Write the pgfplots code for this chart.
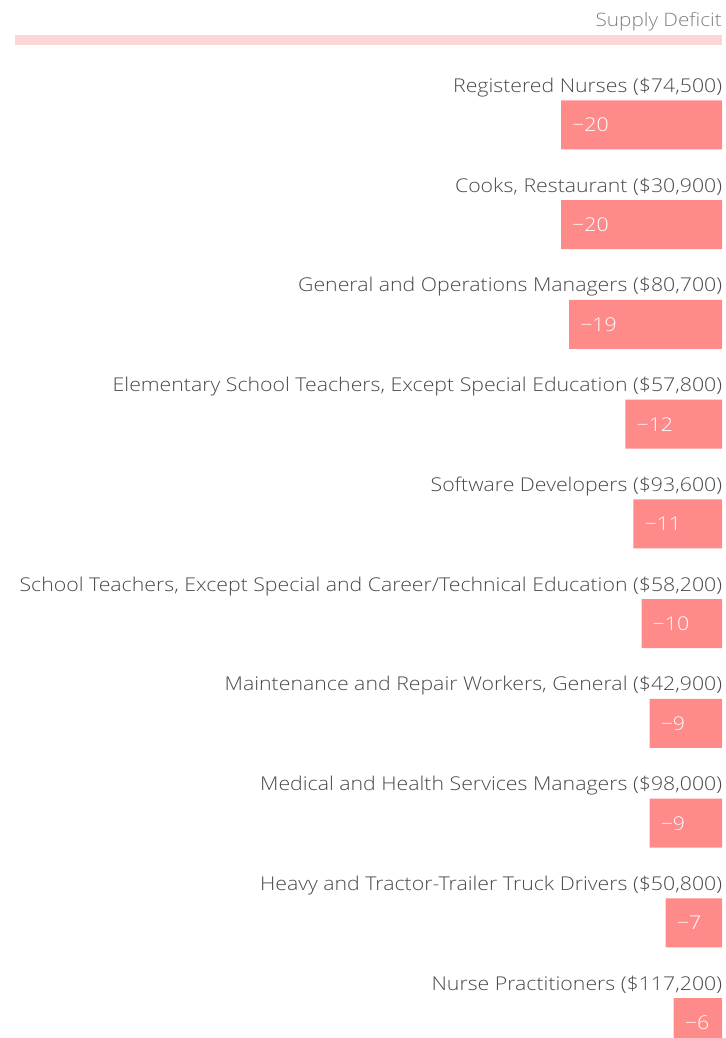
\documentclass[border=0pt]{standalone}
\usepackage{fontspec}
\IfFontExistsTF{Open Sans Light}{\setmainfont{Open Sans Light}[FakeStretch=1.12]}{\setmainfont{Open Sans}[FakeStretch=1.12]}
\usepackage{pgfplots}
\pgfplotsset{compat=1.18}
\definecolor{barred}{HTML}{FF8A8A}
\definecolor{track}{HTML}{FDD5D5}
\definecolor{lbl}{HTML}{484848}
\definecolor{hdr}{HTML}{808080}
\begin{document}
\begin{tikzpicture}
\begin{axis}[
  scale only axis, width=725pt, height=1038pt,
  xmin=-89.69, xmax=0.3727, ymin=-1038, ymax=0,
  axis line style={draw=none}, tick style={draw=none},
  xtick=\empty,
  ytick={-92.5,-192.25,-292,-391.75,-491.5,-591.25,-691,-790.75,-890.5,-990.25},
  yticklabel pos=right,
  yticklabels={{Registered Nurses (\$74,500)},{Cooks, Restaurant (\$30,900)},{General and Operations Managers (\$80,700)},{Elementary School Teachers, Except Special Education (\$57,800)},{Software Developers (\$93,600)},{School Teachers, Except Special and Career/Technical Education (\$58,200)},{Maintenance and Repair Workers, General (\$42,900)},{Medical and Health Services Managers (\$98,000)},{Heavy and Tractor-Trailer Truck Drivers (\$50,800)},{Nurse Practitioners (\$117,200)}},
  yticklabel style={anchor=base east, inner sep=0pt, xshift=-7pt, font=\fontsize{19}{22}\selectfont, text=lbl},
  xbar, bar width=49pt,
  point meta=explicit symbolic,
  nodes near coords,
  nodes near coords style={anchor=west, inner sep=0pt, xshift=11pt, text=white, font=\fontsize{19}{22}\selectfont},
]
\fill[track] (axis cs:-87.83,-35) rectangle (axis cs:0,-45);
\node[anchor=base east, inner sep=0pt, text=hdr, font=\fontsize{18.5}{22}\selectfont] at (axis cs:0,-27) {Supply Deficit};
\addplot[fill=barred, draw=none] coordinates {
  (-20,-125) [−20]
  (-20,-224.75) [−20]
  (-19,-324.5) [−19]
  (-12,-424.25) [−12]
  (-11,-524) [−11]
  (-10,-623.75) [−10]
  (-9,-723.5) [−9]
  (-9,-823.25) [−9]
  (-7,-923) [−7]
  (-6,-1022.75) [−6]
};
\end{axis}
\pgfresetboundingbox
\useasboundingbox (0,0) rectangle (725pt,1038pt);
\end{tikzpicture}
\end{document}
